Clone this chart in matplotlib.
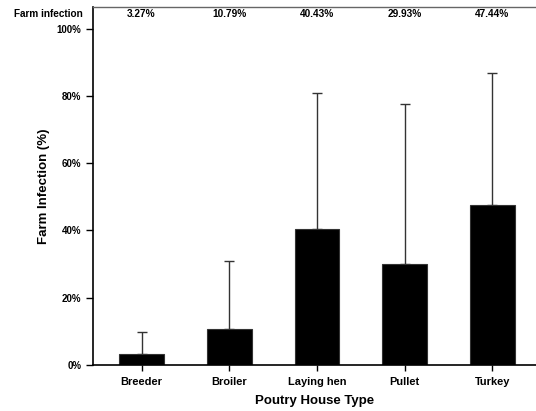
import matplotlib
matplotlib.use('Agg')
import matplotlib.pyplot as plt
from matplotlib import font_manager as fm
import numpy as np

# pick regular-width Liberation Sans Bold explicitly
bold_path = None
for f in fm.fontManager.ttflist:
    if f.name == 'Liberation Sans' and 'Narrow' not in f.fname and f.weight in (700, 'bold'):
        bold_path = f.fname
        break
if bold_path:
    FONT = fm.FontProperties(fname=bold_path)
else:
    FONT = fm.FontProperties(family='DejaVu Sans', weight='bold')

categories = ['Breeder', 'Broiler', 'Laying hen', 'Pullet', 'Turkey']
infection = [3.27, 10.79, 40.43, 29.93, 47.44]
upper_err = [6.5, 20.0, 40.5, 47.7, 39.2]
top_labels = ['3.27%', '10.79%', '40.43%', '29.93%', '47.44%']
yticks = [0, 20, 40, 60, 80, 100]


def fp(size):
    p = FONT.copy()
    p.set_size(size)
    return p


fig = plt.figure(figsize=(5.36, 4.11), dpi=100)
ax = fig.add_axes([92.5/536, 1 - 365/411, 1 - 92.5/536, (365 - 7)/411])

x = np.arange(len(categories))
ax.bar(x, infection, 0.51, color='black', edgecolor='#333333', linewidth=0.8, zorder=2)
ax.errorbar(x, infection, yerr=[np.zeros(len(x)), upper_err], fmt='none',
            ecolor='#333333', elinewidth=1, capsize=3.5, capthick=1, zorder=1)

ax.set_xlim(-0.56, 4.5)
ax.set_ylim(0, 106.4)
ax.set_xticks(x)
ax.set_xticklabels(categories, fontproperties=fp(7.9))
ax.set_yticks(yticks)
ax.set_yticklabels([f'{v}%' for v in yticks], fontproperties=fp(7))
ax.tick_params(axis='y', length=5, width=1, pad=3)
ax.tick_params(axis='x', length=4, width=1, pad=4.5)

ax.spines['right'].set_visible(False)
ax.spines['top'].set_color('#666666')
ax.spines['top'].set_linewidth(1)
ax.spines['left'].set_linewidth(1.2)
ax.spines['bottom'].set_linewidth(1.2)

ax.set_xlabel('Poutry House Type', fontproperties=fp(9.5), labelpad=6)
ax.set_ylabel('Farm Infection (%)', fontproperties=fp(9.5), labelpad=5)

for xi, lab in zip(x, top_labels):
    ax.text(xi, 104.3, lab, ha='center', va='center', fontproperties=fp(7.3))
ax.annotate('Farm infection', xy=(0, 104.3), xycoords=('axes fraction', 'data'),
            xytext=(-10, 0), textcoords='offset pixels', ha='right', va='center',
            fontproperties=fp(7.2), annotation_clip=False)

plt.savefig('out.png', dpi=100)
plt.close()
